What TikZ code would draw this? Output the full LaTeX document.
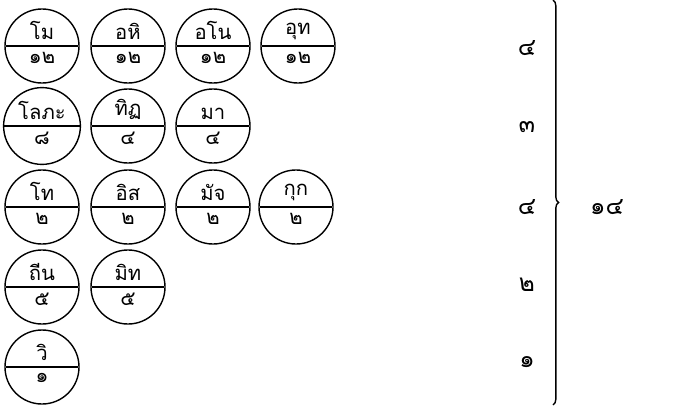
\documentclass[tikz,border=0pt]{standalone}
\usepackage{fontspec}
\newfontfamily\thaifont[Script=Thai]{Loma}
\usetikzlibrary{shapes.multipart,decorations.pathreplacing}

\begin{document}
\begin{tikzpicture}[
  x=0.025cm, y=-0.025cm,
  font=\thaifont,
  cetbox/.style={circle split, draw=black, line width=1pt, minimum size=1.85cm,
                 inner xsep=0pt, inner ysep=4pt, font=\thaifont\Large},
  numlbl/.style={font=\thaifont\LARGE},
]
\useasboundingbox (0,0) rectangle (700,416);

% ===== cetasika circles: name above, count below =====
\foreach \n/\x/\y/\t/\v in {
  moha/42/46/โม/๑๒, ahiri/128/46/อหิ/๑๒, anot/213/46/อโน/๑๒, uddh/298/46/อุท/๑๒,
  lobha/42/126/โลภะ/๘, ditthi/128/126/ทิฏ/๔, mana/213/126/มา/๔,
  dosa/42/207/โท/๒, issa/128/207/อิส/๒, macch/213/207/มัจ/๒, kukk/296/207/กุก/๒,
  thina/42/287/ถีน/๕, middha/128/287/มิท/๕,
  vici/42/367/วิ/๑}{
  \node (\n) [cetbox] at (\x,\y) {\t\nodepart{lower}{\Large\v}};
}

% ===== group totals =====
\foreach \n/\y/\v in {gr1/48/๔, gr2/127/๓, gr3/207/๔, gr4/285/๒, gr5/362/๑}{
  \node (\n) [numlbl] at (527,\y) {\v};
}

% brace over all groups
\coordinate (btop) at (553,0);
\coordinate (bbot) at (553,405);
\draw[line width=1pt, decorate, decoration={brace,amplitude=4pt}] (btop) -- (bbot);
\node (total) [numlbl] at (607,207) {๑๔};
\end{tikzpicture}
\end{document}
